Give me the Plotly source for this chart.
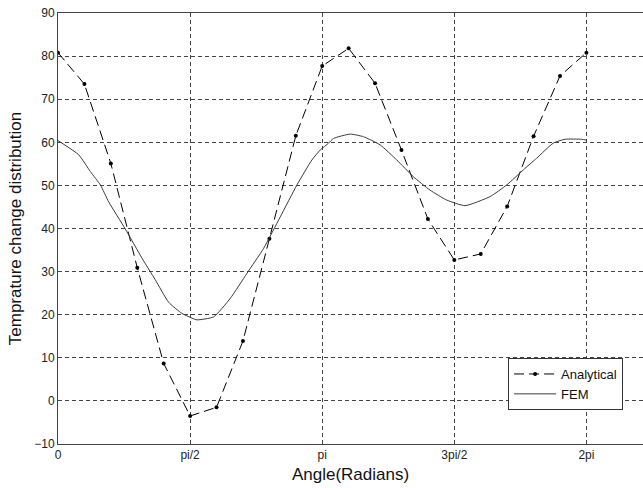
import math
import plotly.graph_objects as go

PI = math.pi

# Analytical solution: 21 samples at k*pi/10, k=0..20
analytical_k = list(range(21))
analytical_y = [80.8, 73.5, 55.1, 30.9, 8.7, -3.5, -1.5, 13.9, 37.6, 61.5,
                77.7, 81.8, 73.7, 58.2, 42.2, 32.7, 34.1, 45.1, 61.4, 75.4, 80.8]

# FEM curve (angle in radians, value)
fem_x = [0.0, 0.246, 0.385, 0.504, 0.602, 0.80, 0.999, 1.157, 1.315, 1.474,
         1.593, 1.652, 1.851, 2.049, 2.247, 2.445, 2.643, 2.841, 3.019, 3.118,
         3.217, 3.276, 3.474, 3.632, 3.830, 4.028, 4.226, 4.424, 4.622, 4.840,
         5.137, 5.335, 5.533, 5.691, 5.889, 6.028, 6.227, 6.283]
fem_y = [60.4, 57.1, 53.2, 50.1, 46.2, 39.9, 33.1, 28.1, 22.9, 20.3,
         19.2, 18.8, 19.5, 23.8, 29.6, 35.4, 42.7, 50.1, 55.9, 58.2,
         59.8, 60.9, 61.9, 61.3, 59.4, 55.9, 52.0, 48.9, 46.6, 45.3,
         47.4, 50.1, 53.6, 56.3, 59.8, 60.7, 60.7, 60.5]

x_tick_vals = [0, PI / 2, PI, 3 * PI / 2, 2 * PI]
x_tick_text = ["0", "pi/2", "pi", "3pi/2", "2pi"]
y_tick_vals = list(range(-10, 91, 10))

analytical_x = [k * PI / 10 for k in analytical_k]

FONT = "Arial, Liberation Sans, sans-serif"

fig = go.Figure()
fig.add_trace(go.Scatter(
    x=analytical_x, y=analytical_y, name="Analytical",
    mode="lines+markers",
    line=dict(color="black", width=1, dash="10px,5px"),
    marker=dict(color="black", size=4, symbol="circle"),
))
fig.add_trace(go.Scatter(
    x=fem_x, y=fem_y, name="FEM", mode="lines",
    line=dict(color="#3a3a3a", width=1, shape="spline", smoothing=0.5),
))

fig.update_layout(
    width=643, height=488,
    margin=dict(l=57.5, r=0, t=13, b=44),
    paper_bgcolor="white", plot_bgcolor="white",
    font=dict(family=FONT, size=12, color="#222"),
    showlegend=True,
    legend=dict(
        x=0.7694, y=0.1995, xanchor="left", yanchor="top",
        bgcolor="white", bordercolor="#333", borderwidth=1,
        font=dict(family=FONT, size=13, color="#111"),
        tracegroupgap=0, itemwidth=42,
    ),
)
fig.update_xaxes(
    range=[0, 6.956], tickvals=x_tick_vals, ticktext=x_tick_text,
    showline=True, linecolor="#444", linewidth=1, mirror=True,
    showgrid=True, gridcolor="#444", gridwidth=1, griddash="4px,3px",
    zeroline=False, ticks="", tickfont=dict(size=12, color="#222"),
    ticklabeloverflow="allow",
    title=dict(text="Angle(Radians)", font=dict(size=17, color="#111"), standoff=6),
)
fig.update_yaxes(
    range=[-10, 90], tickvals=y_tick_vals,
    showline=True, linecolor="#444", linewidth=1, mirror=False,
    showgrid=True, gridcolor="#444", gridwidth=1, griddash="4px,3px",
    zeroline=False, ticks="", tickfont=dict(size=12, color="#222"),
    ticklabeloverflow="allow",
    title=dict(text="Temprature change distribution", font=dict(size=17, color="#111"), standoff=8),
)

fig.write_html(
    "out.html",
    config={"displayModeBar": False},
    post_script="document.body.style.margin='0';document.body.style.overflow='hidden';",
)
